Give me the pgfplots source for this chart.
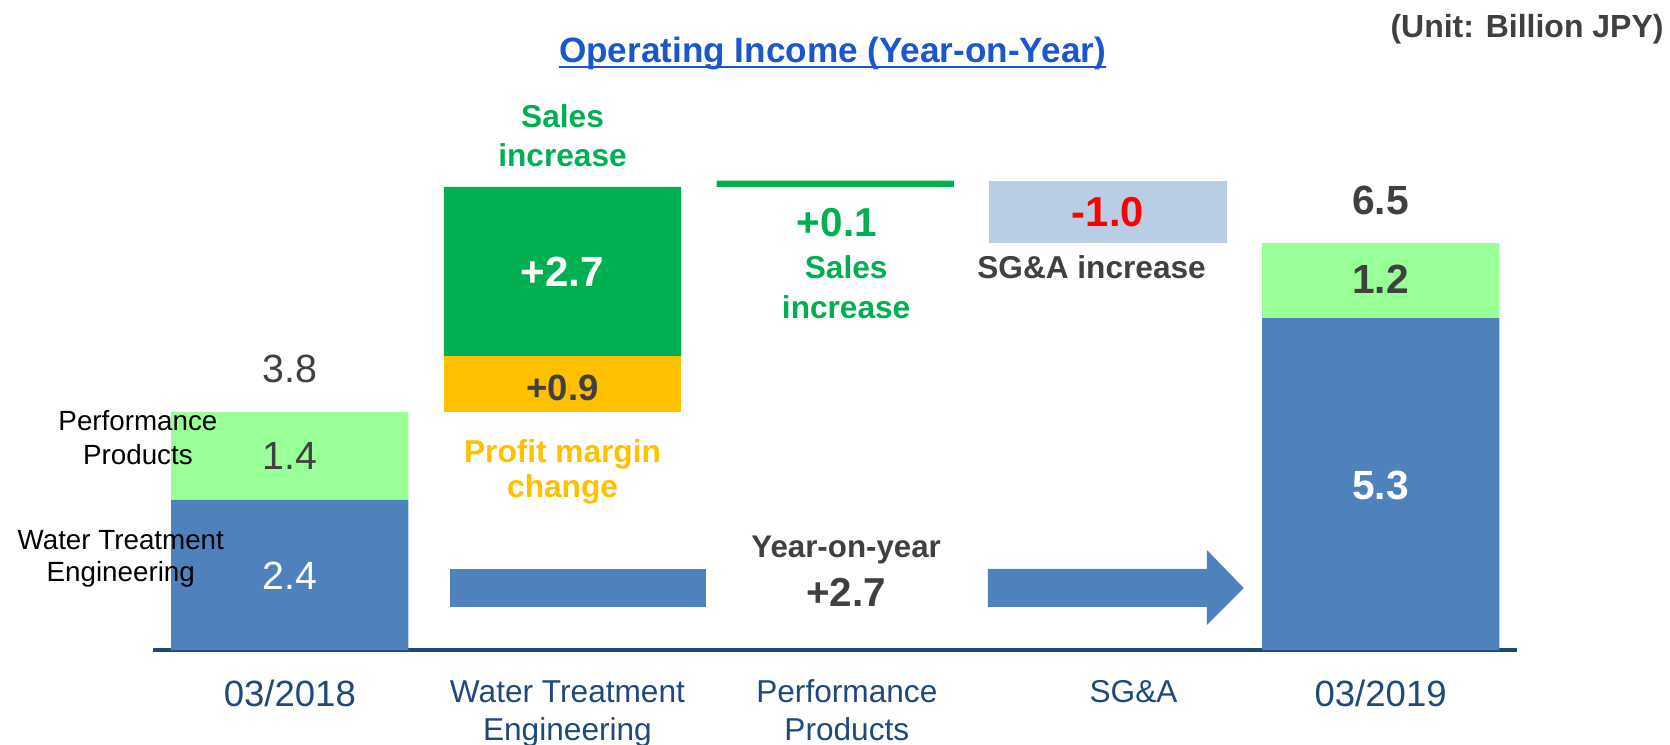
\documentclass[border=0pt]{standalone}
\usepackage{pgfplots}
\pgfplotsset{compat=1.18}
\usepackage{fontspec}
\setmainfont{Liberation Sans}
\definecolor{barblue}{HTML}{4F81BD}
\definecolor{ltgreen}{HTML}{99FF99}
\definecolor{dkgreen}{HTML}{00B050}
\definecolor{yel}{HTML}{FFC000}
\definecolor{ltblue}{HTML}{B9CDE5}
\definecolor{dgray}{HTML}{404040}
\definecolor{titleblue}{HTML}{1A56CC}
\definecolor{tickblue}{HTML}{1F497D}
\newcommand\fs[1]{\fontsize{#1}{#1}\selectfont}
\newsavebox\ulbox
\newcommand\myul[1]{\sbox\ulbox{#1}\rlap{\rule[-1.5pt]{\wd\ulbox}{0.6pt}}\usebox\ulbox}
\pgfplotsset{frame/.style={
  at={(1.535cm,0.94cm)}, anchor=south west,
  scale only axis, width=13.635cm, height=6.26cm,
  xmin=-0.5, xmax=4.5, ymin=0, ymax=10, clip=false}}
\begin{document}
\begin{tikzpicture}
\path[use as bounding box] (0,0) rectangle (16.7cm,7.44cm);
\begin{axis}[
  frame,
  axis x line=bottom, axis y line=none,
  x axis line style={-, draw=tickblue, line width=0.9pt},
  xtick={0,1,2,3,4}, major tick length=0pt,
  xticklabel style={anchor=base, yshift=-14.8pt, text=tickblue, inner sep=0pt},
  xticklabels={
    {\fs{10.4}\raisebox{-1.4pt}{03/2018}},
    {\fontsize{9}{11}\selectfont\kern2.8pt\begin{tabular}[t]{@{}c@{}}Water Treatment\\Engineering\end{tabular}},
    {\fontsize{9}{11}\selectfont\kern6.6pt\begin{tabular}[t]{@{}c@{}}Performance\\Products\end{tabular}},
    {\fontsize{9}{11}\selectfont\kern14.6pt\begin{tabular}[t]{@{}c@{}}SG\&A\end{tabular}},
    {\fs{10.4}\raisebox{-1.4pt}{03/2019}}},
  ybar stacked, bar width=0.87,
]
% stacked waterfall: WTE, offset, PP, margin, sales, SG&A
\addplot[fill=barblue, draw=none] coordinates {(0,2.4) (1,0) (2,0) (3,0) (4,5.3)};
\addplot[fill=none, draw=none] coordinates {(0,0) (1,3.8) (2,7.4) (3,6.5) (4,0)};
\addplot[fill=ltgreen, draw=none] coordinates {(0,1.4) (1,0) (2,0) (3,0) (4,1.2)};
\addplot[fill=yel, draw=none] coordinates {(0,0) (1,0.9) (2,0) (3,0) (4,0)};
\addplot[fill=dkgreen, draw=none] coordinates {(0,0) (1,2.7) (2,0.1) (3,0) (4,0)};
\addplot[fill=ltblue, draw=none] coordinates {(0,0) (1,0) (2,0) (3,1.0) (4,0)};

% year-on-year arrow
\fill[barblue] (axis cs:0.587,0.687) rectangle (axis cs:1.525,1.294);
\fill[barblue] (axis cs:2.56,0.687) -- (axis cs:3.363,0.687) -- (axis cs:3.363,0.399)
  -- (axis cs:3.498,0.99) -- (axis cs:3.363,1.597) -- (axis cs:3.363,1.294)
  -- (axis cs:2.56,1.294) -- cycle;
\end{axis}
\begin{axis}[frame, hide axis]
% title and unit
\node[anchor=base, inner sep=0pt, text=titleblue, font=\fs{10}\bfseries] at (axis cs:1.99,9.38) {\myul{Operating Income (Year-on-Year)}};
\node[anchor=base east, inner sep=0pt, text=dgray, font=\fs{9.1}\bfseries] at (axis cs:5.04,9.79) {(Unit: Billion JPY)};

% bar 1 labels
\node[anchor=base, text=dgray, font=\fs{11.2}] at (axis cs:0,4.27) {3.8};
\node[anchor=base, text=dgray, font=\fs{11.2}] at (axis cs:0,2.88) {1.4};
\node[anchor=base, text=white, font=\fs{11.2}] at (axis cs:0,0.96) {2.4};
\node[anchor=base, text=black, font=\fs{7.9}] at (axis cs:-0.557,3.50) {Performance};
\node[anchor=base, text=black, font=\fs{7.9}] at (axis cs:-0.557,2.97) {Products};
\node[anchor=base, text=black, font=\fs{7.9}] at (axis cs:-0.62,1.61) {Water Treatment};
\node[anchor=base, text=black, font=\fs{7.9}] at (axis cs:-0.62,1.09) {Engineering};

% bar 2 labels
\node[anchor=base, text=dkgreen, font=\fs{9}\bfseries] at (axis cs:1,8.34) {Sales};
\node[anchor=base, text=dkgreen, font=\fs{9}\bfseries] at (axis cs:1,7.73) {increase};
\node[anchor=base, text=white, font=\fs{12}\bfseries] at (axis cs:1,5.80) {+2.7};
\node[anchor=base, text=dgray, font=\fs{10.4}\bfseries] at (axis cs:1,3.99) {+0.9};
\node[anchor=base, text=yel, font=\fs{9}\bfseries] at (axis cs:1,3.00) {Profit margin};
\node[anchor=base, text=yel, font=\fs{9}\bfseries] at (axis cs:1,2.43) {change};

% bar 3 labels
\node[anchor=base, text=dkgreen, font=\fs{11.5}\bfseries] at (axis cs:2.006,6.60) {+0.1};
\node[anchor=base, text=dkgreen, font=\fs{9}\bfseries] at (axis cs:2.04,5.93) {Sales};
\node[anchor=base, text=dkgreen, font=\fs{9}\bfseries] at (axis cs:2.04,5.30) {increase};
\node[anchor=base, text=dgray, font=\fs{8.9}\bfseries] at (axis cs:2.04,1.47) {Year-on-year};
\node[anchor=base, text=dgray, font=\fs{11.5}\bfseries] at (axis cs:2.04,0.69) {+2.7};

% bar 4 labels
\node[anchor=base, text=red, font=\fs{11.9}\bfseries] at (axis cs:3.0,6.77) {-1.0};
\node[anchor=base, text=dgray, font=\fs{9}\bfseries] at (axis cs:2.94,5.94) {SG\&A increase};

% bar 5 labels
\node[anchor=base, text=dgray, font=\fs{11.6}\bfseries] at (axis cs:4,6.96) {6.5};
\node[anchor=base, text=dgray, font=\fs{11.6}\bfseries] at (axis cs:4,5.69) {1.2};
\node[anchor=base, text=white, font=\fs{11.6}\bfseries] at (axis cs:4,2.40) {5.3};
\end{axis}
\end{tikzpicture}
\end{document}
